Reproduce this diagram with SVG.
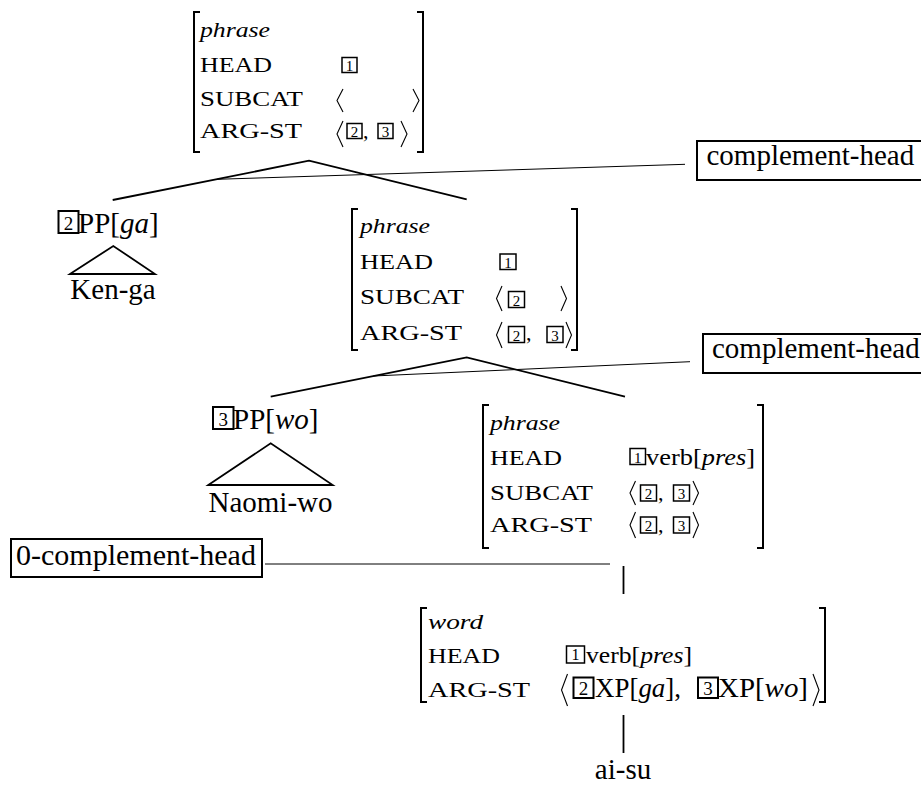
<svg xmlns="http://www.w3.org/2000/svg" width="921" height="785" viewBox="0 0 921 785">
<style>
text{font-family:"Liberation Serif","Times New Roman",serif;fill:#000}
.lb{font-size:22px}
.it{font-style:italic}
.big{font-size:29px}
.d{font-size:15px;text-anchor:middle}
.dd{font-size:19px;text-anchor:middle}
.bx{fill:none;stroke:#000;stroke-width:1.5}
.bx2{fill:none;stroke:#000;stroke-width:2}
.br{fill:none;stroke:#000;stroke-width:2}
.ang{fill:none;stroke:#000;stroke-width:1.1}
.tree{fill:none;stroke:#000;stroke-width:1.8}
.conn{fill:none;stroke:#000;stroke-width:1}
.tag{fill:#fff;stroke:#000;stroke-width:2}
</style>

<g id="connectors">
<path class="tree" d="M112.7,200 L309,160.7 L466.7,199.3"/>
<path class="tree" d="M270.7,396.7 L466.7,357.3 L625,396.7"/>
<path class="tree" d="M623.5,566 V594"/>
<path class="tree" d="M623.5,715 V753"/>
<path class="conn" d="M217,179.3 L685,164.3"/>
<path class="conn" d="M373.3,376 L690,361.7"/>
<path class="conn" d="M265,564 H610"/>
</g>

<g id="avm1">
<path class="br" d="M200,12 H194 V152 H200"/>
<path class="br" d="M417,12 H423 V152 H417"/>
<text class="lb it" x="200" y="36.5" textLength="70" lengthAdjust="spacingAndGlyphs">phrase</text>
<text class="lb" x="200" y="71.5" textLength="72" lengthAdjust="spacingAndGlyphs">HEAD</text>
<text class="lb" x="200" y="105.5" textLength="103" lengthAdjust="spacingAndGlyphs">SUBCAT</text>
<text class="lb" x="200" y="138" textLength="102" lengthAdjust="spacingAndGlyphs">ARG-ST</text>
<rect class="bx" x="342" y="57.5" width="15" height="15"/><text class="d" x="349.5" y="70.5">1</text>
<polyline class="ang" points="343,89 337,100.5 343,112"/>
<polyline class="ang" points="413,89 419,100.5 413,112"/>
<polyline class="ang" points="343,121 337,134 343,147"/>
<rect class="bx" x="347" y="123.5" width="15" height="15"/><text class="d" x="354.5" y="136.5">2</text>
<text class="lb" x="363" y="138">,</text>
<rect class="bx" x="378" y="123.5" width="15" height="15"/><text class="d" x="385.5" y="136.5">3</text>
<polyline class="ang" points="401,121 407,134 401,147"/>
</g>

<g id="avm2">
<path class="br" d="M358,209 H352 V350 H358"/>
<path class="br" d="M571,209 H577 V350 H571"/>
<text class="lb it" x="360" y="233" textLength="70" lengthAdjust="spacingAndGlyphs">phrase</text>
<text class="lb" x="360" y="268.5" textLength="73" lengthAdjust="spacingAndGlyphs">HEAD</text>
<text class="lb" x="360" y="304" textLength="104" lengthAdjust="spacingAndGlyphs">SUBCAT</text>
<text class="lb" x="360" y="340" textLength="102" lengthAdjust="spacingAndGlyphs">ARG-ST</text>
<rect class="bx" x="500" y="254" width="16" height="15.5"/><text class="d" x="508" y="267.5">1</text>
<polyline class="ang" points="502,286 496.5,298.5 502,311"/>
<rect class="bx" x="508.5" y="291.5" width="16" height="16"/><text class="d" x="516.5" y="305.5">2</text>
<polyline class="ang" points="561,286 566.5,298.5 561,311"/>
<polyline class="ang" points="502,322 496.5,335 502,348"/>
<rect class="bx" x="508.5" y="326.5" width="16" height="16"/><text class="d" x="516.5" y="340.5">2</text>
<text class="lb" x="526" y="340">,</text>
<rect class="bx" x="547" y="326.5" width="16" height="16"/><text class="d" x="555" y="340.5">3</text>
<polyline class="ang" points="566,322 571.5,335 566,348"/>
</g>

<g id="avm3">
<path class="br" d="M489,405 H483 V548 H489"/>
<path class="br" d="M757,405 H763 V548 H757"/>
<text class="lb it" x="490" y="430" textLength="70" lengthAdjust="spacingAndGlyphs">phrase</text>
<text class="lb" x="490" y="465" textLength="72" lengthAdjust="spacingAndGlyphs">HEAD</text>
<text class="lb" x="490" y="499.5" textLength="103" lengthAdjust="spacingAndGlyphs">SUBCAT</text>
<text class="lb" x="490" y="532" textLength="102" lengthAdjust="spacingAndGlyphs">ARG-ST</text>
<rect class="bx" x="630" y="448.5" width="15.5" height="16"/><text class="d" x="637.8" y="462.5">1</text>
<text class="lb" x="646" y="465" textLength="109" lengthAdjust="spacingAndGlyphs" style="font-size:23px">verb[<tspan class="it">pres</tspan>]</text>
<polyline class="ang" points="635.5,481 630,493 635.5,505"/>
<rect class="bx" x="640.5" y="485" width="16" height="16"/><text class="d" x="648.5" y="499">2</text>
<text class="lb" x="658" y="500">,</text>
<rect class="bx" x="673.5" y="485" width="16" height="16"/><text class="d" x="681.5" y="499">3</text>
<polyline class="ang" points="693,481 698.5,493 693,505"/>
<polyline class="ang" points="635.5,512 630,525 635.5,538"/>
<rect class="bx" x="640.5" y="517" width="16" height="16"/><text class="d" x="648.5" y="531">2</text>
<text class="lb" x="658" y="532">,</text>
<rect class="bx" x="673.5" y="517" width="16" height="16"/><text class="d" x="681.5" y="531">3</text>
<polyline class="ang" points="693,512 698.5,525 693,538"/>
</g>

<g id="avm4">
<path class="br" d="M427,608 H421 V702 H427"/>
<path class="br" d="M819,608 H825 V702 H819"/>
<text class="lb it" x="428" y="629" textLength="55" lengthAdjust="spacingAndGlyphs">word</text>
<text class="lb" x="428" y="663" textLength="72" lengthAdjust="spacingAndGlyphs">HEAD</text>
<text class="lb" x="428" y="697" textLength="102" lengthAdjust="spacingAndGlyphs">ARG-ST</text>
<rect class="bx" x="566.5" y="646" width="18" height="17"/><text class="d" x="575.5" y="660" style="font-size:16px">1</text>
<text class="lb" x="586" y="663" textLength="106" lengthAdjust="spacingAndGlyphs" style="font-size:24px">verb[<tspan class="it">pres</tspan>]</text>
<polyline class="ang" points="567.5,674 561.5,690 567.5,706"/>
<rect class="bx2" x="573.5" y="677.5" width="20" height="20.5"/><text class="dd" x="583.5" y="695">2</text>
<text class="lb" x="595" y="697" textLength="86" lengthAdjust="spacingAndGlyphs" style="font-size:27px">XP[<tspan class="it">ga</tspan>],</text>
<rect class="bx2" x="698" y="677.5" width="20" height="20.5"/><text class="dd" x="708" y="695">3</text>
<text class="lb" x="718" y="697" textLength="90" lengthAdjust="spacingAndGlyphs" style="font-size:27px">XP[<tspan class="it">wo</tspan>]</text>
<polyline class="ang" points="813,674 819,690 813,706"/>
</g>

<g id="pp-ga">
<rect class="bx2" x="58.5" y="211" width="20" height="22"/><text class="dd" x="68.5" y="229.5">2</text>
<text class="big" x="78" y="232.7">PP[<tspan class="it">ga</tspan>]</text>
</g>
<g id="ken-ga">
<path class="tree" d="M70,274 L113.3,246 L155,274 Z"/>
<text class="big" x="113" y="299" text-anchor="middle">Ken-ga</text>
</g>

<g id="pp-wo">
<rect class="bx2" x="213" y="407" width="20.5" height="22"/><text class="dd" x="223.3" y="425.5">3</text>
<text class="big" x="233" y="429.3">PP[<tspan class="it">wo</tspan>]</text>
</g>
<g id="naomi-wo">
<path class="tree" d="M208.3,485 L270.7,443.3 L332.7,485 Z"/>
<text class="big" x="270.5" y="511.7" text-anchor="middle">Naomi-wo</text>
</g>

<g id="ai-su">
<text class="big" x="623" y="779" text-anchor="middle">ai-su</text>
</g>

<g id="tag1">
<rect class="tag" x="697" y="141" width="240" height="39"/>
<text class="big" x="706.5" y="165">complement-head</text>
</g>
<g id="tag2">
<rect class="tag" x="703" y="334" width="240" height="39"/>
<text class="big" x="712" y="358">complement-head</text>
</g>
<g id="tag3">
<rect class="tag" x="11" y="539" width="251" height="38"/>
<text class="big" x="16" y="565" style="font-size:30px">0-complement-head</text>
</g>
</svg>
